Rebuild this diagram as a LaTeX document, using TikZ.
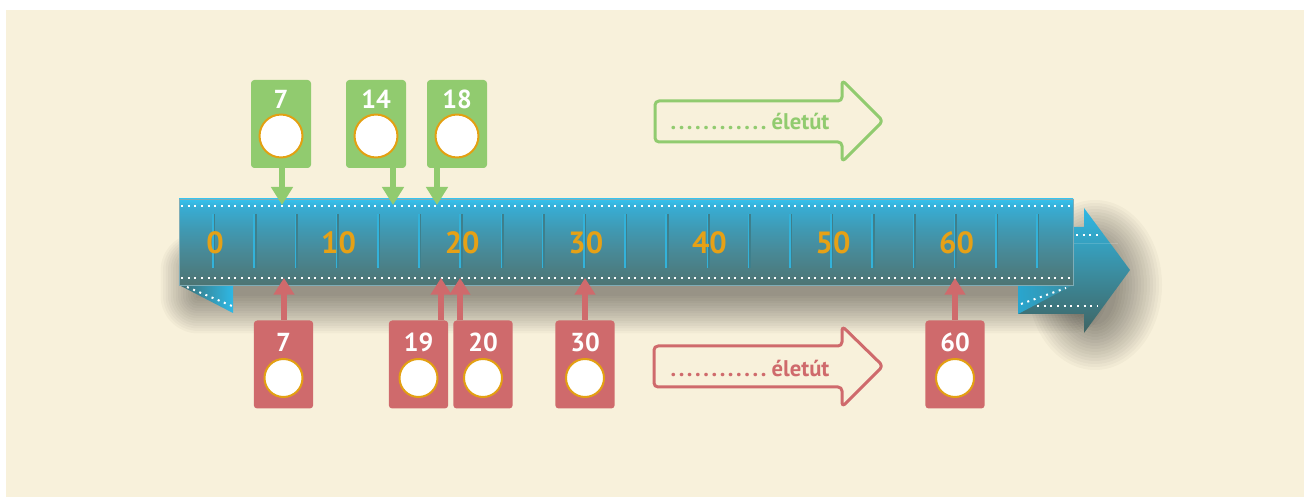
\documentclass[tikz,border=0pt]{standalone}
\usepackage{fontspec}
\setmainfont{PT Sans}
\usetikzlibrary{arrows.meta}
\definecolor{cream}{HTML}{F8F1DB}
\definecolor{gcol}{HTML}{91CB6F}
\definecolor{rcol}{HTML}{CF6A6C}
\definecolor{ocol}{HTML}{E3A012}
\definecolor{numcol}{HTML}{E6A116}
\definecolor{btop}{HTML}{36C2EE}
\definecolor{btopb}{HTML}{38ACD3}
\definecolor{bmid}{HTML}{3F9AB4}
\definecolor{bmidb}{HTML}{488A98}
\definecolor{bbot}{HTML}{4D7473}
\definecolor{atop}{HTML}{2EB8E5}
\definecolor{amid}{HTML}{3B8EA2}
\definecolor{abot}{HTML}{3F6463}
\definecolor{tickl}{HTML}{33B2DA}
\definecolor{tickd}{HTML}{3E7F8C}
\pgfdeclareverticalshading{barshade}{100bp}{color(0bp)=(bbot); color(25bp)=(bbot); color(45bp)=(bmidb); color(58bp)=(bmid); color(70bp)=(btopb); color(75bp)=(btop); color(100bp)=(btop)}
\newcommand{\dotbox}{\makebox[6.15pt]{.}}
\newcommand{\dotrow}{\dotbox\dotbox\dotbox\dotbox\dotbox\dotbox\dotbox\dotbox\dotbox\dotbox\dotbox\dotbox}
\tikzset{
  gbox/.style={fill=gcol, rounded corners=2.5pt, minimum width=45pt, minimum height=66pt, inner sep=0},
  rbox/.style={fill=rcol, rounded corners=2.5pt, minimum width=44.5pt, minimum height=66pt, inner sep=0},
  ring/.style={circle, fill=white, draw=ocol, line width=1.5pt, inner sep=0},
  gring/.style={ring, minimum size=32.2pt},
  rring/.style={ring, minimum size=28.5pt},
  lab/.style={text=white, font=\fontsize{19.5}{20}\selectfont\bfseries, inner sep=0},
  num/.style={text=numcol, font=\fontsize{23}{24}\selectfont\bfseries, inner sep=0},
  garr/.style={draw=gcol, line width=4.5pt, -{Triangle[width=15.75pt,length=13.5pt]}},
  rarr/.style={draw=rcol, line width=4.5pt, -{Triangle[width=15pt,length=12.5pt]}},
  dotline/.style={white, line width=1.5pt, dash pattern=on 1.5pt off 3.5pt},
  outarrow/.style={line width=2.25pt, rounded corners=3pt, line join=round},
  otext/.style={anchor=west, inner sep=0, font=\fontsize{17}{18}\selectfont\bfseries},
  shadowpiece/.style={black, opacity=0.026},
}
\begin{document}
\begin{tikzpicture}[x=0.75pt,y=-0.75pt]
\useasboundingbox (0,0) rectangle (1309,498);
\fill[white] (0,0) rectangle (1309,498);
\fill[cream] (6,10) rectangle (1304,497);
% soft shadow
\foreach \i in {0,...,15} {
  \fill[shadowpiece, rounded corners=\i*1.9pt] (198-\i*2.5,266-\i*2.2) rectangle (1070+\i*2.5,296+\i*2.5);
}
\foreach \i in {0,...,15} {
  \fill[shadowpiece] (1095,285) ellipse ({22+\i*3} and {40+\i*3});
}
% arrow behind the bar
\shade[top color=atop, bottom color=abot, middle color=amid]
  (1018,227) -- (1084,227) -- (1084,208) -- (1130,270) -- (1084,333) -- (1084,314) -- (1018,314) -- cycle;
\draw[white, opacity=0.15, line width=0.75pt] (1073,244) -- (1118,244);
\draw[dotline] (1076,235) -- (1098,235);
\draw[dotline] (1037,306) -- (1098,306);
% right fold
\shade[left color=atop!90!black, right color=amid] (1018,285) -- (1073,285) -- (1018,314) -- cycle;
\draw[dotline] (1021,304) -- (1066,288);
% left fold
\shade[left color=abot!90!atop, right color=atop] (179,285) -- (233,285) -- (233,313) -- cycle;
\draw[dotline] (187,287) -- (232,306);
% bar
\node[shade, shading=barshade, draw=bmidb!70!white, line width=0.5pt, minimum width=670.5pt, minimum height=64.5pt, inner sep=0] (bar) at (626,242) {};
\draw[dotline] (181,206) -- (1073,206);
\draw[dotline] (181,278) -- (1073,278);
\foreach \k in {0,...,20} {
  \draw[tickd, line width=1.1pt] ({214.6+41.2*\k},214) -- ++(0,54);
  \draw[tickl, line width=1.1pt] ({213+41.2*\k},214) -- ++(0,54);
}
\foreach \v/\k in {0/0,10/3,20/6,30/9,40/12,50/15,60/18} {
  \node[num] (n\v) at ({215+41.2*\k},243) {\v};
}
% green boxes
\foreach \n/\bx/\ax in {7/281/282, 14/376/393, 18/457/437} {
  \node[gbox] (g\n) at (\bx,124) {};
  \node[lab] (g\n l) at (\bx,99) {\n};
  \node[gring] (g\n c) at (\bx,136) {};
  \coordinate (g\n t) at (\ax,205);
  \draw[garr] (g\n t |- g\n.south) -- (g\n t);
}
% red boxes
\foreach \n/\bx/\ax in {7/283.5/284, 19/418.5/441, 20/483/460, 30/585/585, 60/955/955} {
  \node[rbox] (r\n) at (\bx,364.5) {};
  \node[lab] (r\n l) at (\bx,342) {\n};
  \node[rring] (r\n c) at (\bx,378) {};
  \coordinate (r\n t) at (\ax,278);
  \draw[rarr] (r\n t |- r\n.north) -- (r\n t);
}
% outline arrows
\draw[outarrow, gcol] (655,101) -- (842,101) -- (842,80) -- (883,121) -- (842,162) -- (842,142) -- (655,142) -- cycle;
\node[otext, text=gcol] (gtx) at (669,122) {\dotrow\hspace{3pt}életút};
\draw[outarrow, rcol] (654,346) -- (842,346) -- (842,326) -- (883,366) -- (842,407) -- (842,387) -- (654,387) -- cycle;
\node[otext, text=rcol] (rtx) at (669,368) {\dotrow\hspace{3pt}életút};
\end{tikzpicture}
\end{document}
